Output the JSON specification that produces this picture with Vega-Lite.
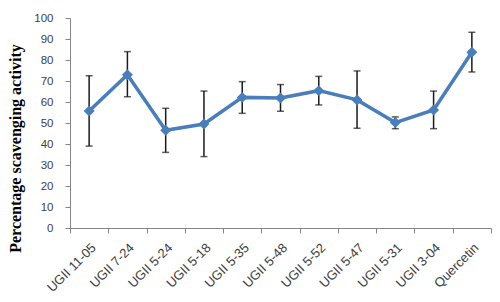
{
  "$schema": "https://vega.github.io/schema/vega-lite/v6.json",
  "width": 421,
  "height": 210,
  "autosize": {"type": "none"},
  "padding": {"left": 70, "top": 18, "right": 9, "bottom": 74},
  "background": "white",
  "config": {"view": {"stroke": null}, "font": "Liberation Sans"},
  "data": {"values": [
    {"name": "UGII 11-05", "value": 55.7, "lo": 39.0, "hi": 72.5},
    {"name": "UGII 7-24", "value": 73.0, "lo": 62.5, "hi": 84.0},
    {"name": "UGII 5-24", "value": 46.5, "lo": 36.0, "hi": 57.0},
    {"name": "UGII 5-18", "value": 49.5, "lo": 34.0, "hi": 65.2},
    {"name": "UGII 5-35", "value": 62.2, "lo": 54.6, "hi": 69.7},
    {"name": "UGII 5-48", "value": 61.9, "lo": 55.6, "hi": 68.3},
    {"name": "UGII 5-52", "value": 65.4, "lo": 58.6, "hi": 72.2},
    {"name": "UGII 5-47", "value": 61.0, "lo": 47.5, "hi": 74.8},
    {"name": "UGII 5-31", "value": 50.2, "lo": 47.3, "hi": 52.9},
    {"name": "UGII 3-04", "value": 56.2, "lo": 47.3, "hi": 65.2},
    {"name": "Quercetin", "value": 83.7, "lo": 74.3, "hi": 93.2}
  ]},
  "encoding": {
    "x": {
      "field": "name", "type": "nominal", "sort": null,
      "scale": {"paddingInner": 0, "paddingOuter": 0},
      "axis": {
        "title": null, "labelAngle": -45, "labelFontSize": 13, "labelColor": "#404040",
        "domainColor": "#868686", "tickColor": "#868686", "tickSize": 5,
        "tickBand": "extent", "labelPadding": 8, "grid": false, "labelOverlap": false
      }
    }
  },
  "layer": [
    {
      "mark": {"type": "rule", "color": "#1a1a1a", "strokeWidth": 1.5},
      "encoding": {
        "y": {"field": "lo", "type": "quantitative", "scale": {"domain": [0, 100], "nice": false},
          "axis": {
            "tickCount": 10,
            "title": "Percentage scavenging activity",
            "titleFont": "Liberation Serif", "titleFontSize": 16, "titleFontWeight": "bold",
            "titleColor": "#000000", "titleX": -55, "titleY": 130, "titleAlign": "center", "titleBaseline": "middle",
            "labelFontSize": 11.5, "labelColor": "#404040", "labelPadding": 12, "labelOverlap": false,
            "domainColor": "#868686", "tickColor": "#868686", "tickSize": 5, "grid": false
          }},
        "y2": {"field": "hi"}
      }
    },
    {
      "mark": {"type": "tick", "orient": "horizontal", "color": "#1a1a1a", "size": 7, "thickness": 1.5},
      "encoding": {"y": {"field": "lo", "type": "quantitative"}}
    },
    {
      "mark": {"type": "tick", "orient": "horizontal", "color": "#1a1a1a", "size": 7, "thickness": 1.5},
      "encoding": {"y": {"field": "hi", "type": "quantitative"}}
    },
    {
      "mark": {"type": "line", "color": "#4A7EBB", "strokeWidth": 3.5, "point": {"shape": "diamond", "size": 120, "filled": true, "color": "#4A7EBB"}},
      "encoding": {
        "y": {"field": "value", "type": "quantitative"}
      }
    }
  ]
}
